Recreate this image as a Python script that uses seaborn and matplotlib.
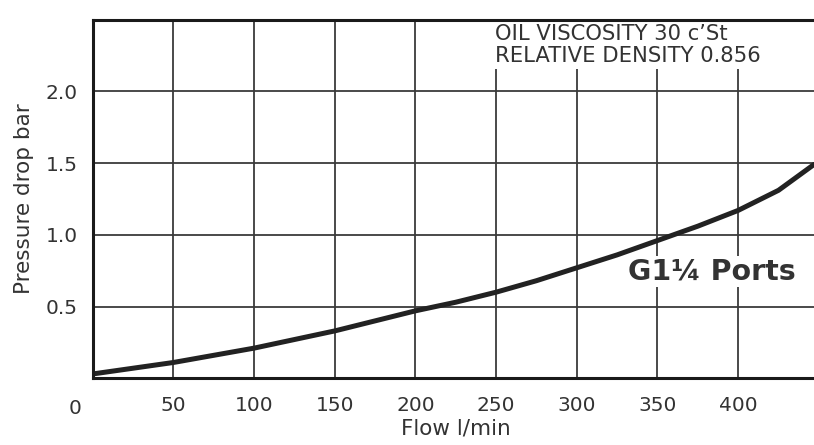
import numpy as np
import pandas as pd
import seaborn as sns
import matplotlib.pyplot as plt

# Data (flow in l/min, pressure drop in bar)
flow = [0, 25, 50, 75, 100, 125, 150, 175, 200, 225, 250, 275, 300,
        325, 350, 375, 400, 425, 447]
pressure_drop = [0.03, 0.07, 0.11, 0.16, 0.21, 0.27, 0.33, 0.40, 0.47, 0.53,
                 0.60, 0.68, 0.77, 0.86, 0.96, 1.06, 1.17, 1.31, 1.49]
x_ticks = [50, 100, 150, 200, 250, 300, 350, 400]
y_ticks = [0.5, 1.0, 1.5, 2.0]

df = pd.DataFrame({"Flow": flow, "Pressure": pressure_drop})

sns.set_style("white")
plt.rcParams['font.family'] = ['DejaVu Sans']

fig = plt.figure(figsize=(8.14, 4.45), dpi=100)
ax = fig.add_axes([0.114, 0.150, 0.886, 0.806])

# grid lines
for xv in np.arange(50, 450, 50):
    ax.axvline(xv, color="#3a3a3a", lw=1.3, zorder=1)
for yv in y_ticks:
    ax.axhline(yv, color="#3a3a3a", lw=1.3, zorder=1)

sns.lineplot(data=df, x="Flow", y="Pressure", ax=ax, color="#222222",
             lw=3.6, zorder=3)

ax.set_xlim(0, 447)
ax.set_ylim(0, 2.5)
ax.set_xticks(x_ticks)
ax.set_yticks(y_ticks)
ax.set_yticklabels(["0.5", "1.0", "1.5", "2.0"])
ax.tick_params(axis="both", direction="out", length=7, width=1.5,
               color="#222222", labelsize=14.5, labelcolor="#333333", pad=4)
ax.tick_params(axis="x", pad=6)

for side in ["left", "bottom", "top"]:
    ax.spines[side].set_color("#1a1a1a")
    ax.spines[side].set_linewidth(2.2)
    ax.spines[side].set_zorder(5)
ax.spines["right"].set_visible(False)

ax.set_xlabel("Flow l/min", fontsize=15.5, color="#333333")
ax.set_ylabel("Pressure drop bar", fontsize=15.5, color="#333333")
ax.xaxis.set_label_coords(0.503, -0.112)
ax.yaxis.set_label_coords(-0.082, 0.5)

# origin label
ax.text(-11, -0.21, "0", fontsize=14.5, color="#333333", ha="center", va="center")

ax.text(249, 2.47, "OIL VISCOSITY 30 c’St\nRELATIVE DENSITY 0.856",
        fontsize=15.2, color="#333333", ha="left", va="top", linespacing=1.12,
        bbox=dict(facecolor="white", edgecolor="none", pad=2), zorder=4)

ax.text(332, 0.745, "G1¼ Ports", fontsize=20.5, fontweight="bold",
        color="#333333", ha="left", va="center", zorder=4,
        bbox=dict(facecolor="white", edgecolor="none", pad=1))

fig.savefig("out.png", dpi=100)
